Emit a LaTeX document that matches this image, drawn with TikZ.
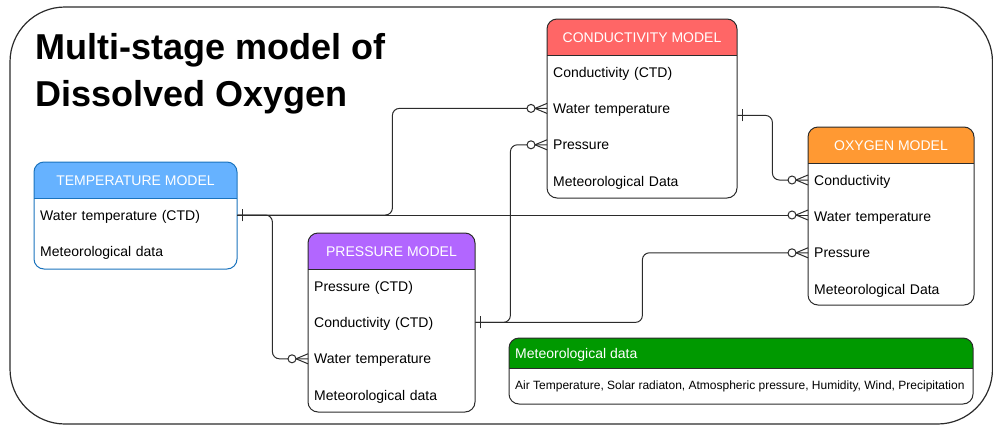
\documentclass[tikz,border=0pt]{standalone}
\usepackage{fontspec}
\setmainfont{Liberation Sans}
\usetikzlibrary{positioning}
\usetikzlibrary{calc}
\usetikzlibrary{decorations.markings}

\definecolor{edge}{HTML}{2B2B2B}
\definecolor{tempfill}{HTML}{66B2FF}
\definecolor{templine}{HTML}{1A73BD}
\definecolor{condfill}{HTML}{FF6666}
\definecolor{oxyfill}{HTML}{FF9933}
\definecolor{presfill}{HTML}{B266FF}
\definecolor{metfill}{HTML}{009900}

\begin{document}
\begin{tikzpicture}[x=1pt, y=-1pt,
    frame/.style={draw=edge, line width=1.2pt, rounded corners=55pt},
    title/.style={anchor=north west, inner sep=0pt, align=left, font=\fontsize{36}{46.8}\selectfont\bfseries},
    tbl/.style={draw=edge, line width=1pt, rounded corners=10pt},
    hdr/.style={text=white, inner sep=0pt, text height=10pt, text depth=0pt, font=\fontsize{14}{16}\selectfont},
    row/.style={anchor=west, inner xsep=6pt, inner ysep=0pt, text height=10pt, text depth=0pt, align=left, font=\fontsize{14}{16}\selectfont},
    link/.style={draw=edge, line width=1pt, rounded corners=7pt},
    onestart/.style={postaction={decorate, decoration={markings,
        mark=at position 5pt with {\draw[edge, line width=1pt] (0,-6pt) -- (0,6pt);}}}},
    zeromany/.style={postaction={decorate, decoration={markings,
        mark=at position -16pt with {\draw[edge, line width=1pt, fill=white] (0,0) circle (4pt);
        \draw[edge, line width=1pt] (4pt,0) -- (16pt,5pt) (4pt,0) -- (16pt,-5pt);}}}}
]
    \useasboundingbox (0,0) rectangle (993,426);

    % Frame and title
    \draw[frame] (10,7) rectangle (992.5,424);
    \node[title] (TT) at (35,33) {Multi-stage model of\\Dissolved Oxygen};

    % Temperature model
    \coordinate (T0) at (34,162);
    \begin{scope}
        \clip[rounded corners=10pt] (T0) rectangle ++(203,107);
        \fill[white] (T0) rectangle ++(203,107);
        \fill[tempfill] (T0) rectangle ++(203,36);
    \end{scope}
    \draw[templine, line width=1pt] ($(T0)+(0,36)$) -- ++(203,0);
    \draw[tbl, draw=templine] (T0) rectangle ++(203,107);
    \node[hdr] (TH) at ($(T0)+(101.5,18)$) {TEMPERATURE MODEL};
    \node[row, text width=191pt] (TW) at ($(T0)+(0,53)$) {Water temperature (CTD)};
    \node[row, text width=191pt] (TM) [below=26pt of TW] {Meteorological data};

    % Conductivity model
    \coordinate (C0) at (547,19);
    \begin{scope}
        \clip[rounded corners=10pt] (C0) rectangle ++(190,179);
        \fill[white] (C0) rectangle ++(190,179);
        \fill[condfill] (C0) rectangle ++(190,36);
    \end{scope}
    \draw[edge, line width=1pt] ($(C0)+(0,36)$) -- ++(190,0);
    \draw[tbl] (C0) rectangle ++(190,179);
    \node[hdr] (CH) at ($(C0)+(95,18)$) {CONDUCTIVITY MODEL};
    \node[row, text width=178pt] (CC) at ($(C0)+(0,53)$) {Conductivity (CTD)};
    \node[row, text width=178pt] (CW) [below=26pt of CC] {Water temperature};
    \node[row, text width=178pt] (CP) [below=26pt of CW] {Pressure};
    \node[row, text width=178pt] (CM) [below=26pt of CP] {Meteorological Data};

    % Oxygen model
    \coordinate (O0) at (808,127);
    \begin{scope}
        \clip[rounded corners=10pt] (O0) rectangle ++(166,178);
        \fill[white] (O0) rectangle ++(166,178);
        \fill[oxyfill] (O0) rectangle ++(166,36);
    \end{scope}
    \draw[edge, line width=1pt] ($(O0)+(0,36)$) -- ++(166,0);
    \draw[tbl] (O0) rectangle ++(166,178);
    \node[hdr] (OH) at ($(O0)+(83,18)$) {OXYGEN MODEL};
    \node[row, text width=154pt] (OC) at ($(O0)+(0,53)$) {Conductivity};
    \node[row, text width=154pt] (OW) [below=26pt of OC] {Water temperature};
    \node[row, text width=154pt] (OP) [below=26pt of OW] {Pressure};
    \node[row, text width=154pt] (OM) [below=26pt of OP] {Meteorological Data};

    % Pressure model
    \coordinate (P0) at (308,233);
    \begin{scope}
        \clip[rounded corners=10pt] (P0) rectangle ++(167,179);
        \fill[white] (P0) rectangle ++(167,179);
        \fill[presfill] (P0) rectangle ++(167,36);
    \end{scope}
    \draw[edge, line width=1pt] ($(P0)+(0,36)$) -- ++(167,0);
    \draw[tbl] (P0) rectangle ++(167,179);
    \node[hdr] (PH) at ($(P0)+(83.5,18)$) {PRESSURE MODEL};
    \node[row, text width=155pt] (PP) at ($(P0)+(0,53)$) {Pressure (CTD)};
    \node[row, text width=155pt] (PC) [below=26pt of PP] {Conductivity (CTD)};
    \node[row, text width=155pt] (PW) [below=26pt of PC] {Water temperature};
    \node[row, text width=155pt] (PM) [below=26pt of PW] {Meteorological data};

    % Meteorological data
    \coordinate (M0) at (509,338);
    \begin{scope}
        \clip[rounded corners=10pt] (M0) rectangle ++(464,66);
        \fill[white] (M0) rectangle ++(464,66);
        \fill[metfill] (M0) rectangle ++(464,30);
    \end{scope}
    \draw[edge, line width=1pt] ($(M0)+(0,30)$) -- ++(464,0);
    \draw[tbl] (M0) rectangle ++(464,66);
    \node[row, text=white] (MH) at ($(M0)+(0,15)$) {Meteorological data};
    \node[row, font=\fontsize{12}{14}\selectfont, text height=8.6pt] (MB) at ($(M0)+(0,47)$) {Air Temperature, Solar radiaton, Atmospheric pressure, Humidity, Wind, Precipitation};

    % Links
    \coordinate (CO) at ($(CW.east)+(0,7)$);
    \draw[link, onestart, zeromany] (TW.east) -- ++(155,0) |- (CW.west);
    \draw[link, onestart, zeromany] (TW.east) -- (TW.east -| OW.west);
    \draw[link, onestart, zeromany] (TW.east) -- ++(35,0) |- (PW.west);
    \draw[link, onestart, zeromany] (PC.east) -- ++(35,0) |- (CP.west);
    \draw[link, onestart, zeromany] (PC.east) -- ++(167,0) |- (OP.west);
    \draw[link, onestart, zeromany] (CO) -- ++(35,0) |- (OC.west);
\end{tikzpicture}
\end{document}
